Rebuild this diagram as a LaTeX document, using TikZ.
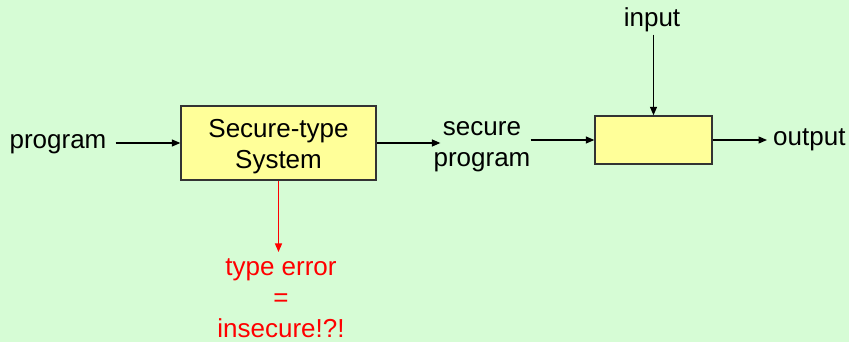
\documentclass[tikz,border=0pt]{standalone}
\usepackage{fontspec}
\setmainfont{Liberation Sans}
\usetikzlibrary{arrows.meta}
\definecolor{bg}{RGB}{214,252,213}
\definecolor{boxy}{RGB}{255,255,153}
\begin{document}
\begin{tikzpicture}[x=1pt,y=-1pt,
  font=\fontsize{26}{31}\selectfont,
  arr/.style={-{Triangle[length=8.5pt,width=7pt]}, line width=1.25pt},
  blk/.style={draw=black!80, fill=boxy, line width=1.4pt, inner sep=0pt, align=center},
  lbl/.style={inner sep=0pt, align=center, anchor=base}]
\fill[bg] (0,0) rectangle (849,342);
\useasboundingbox (0,0) rectangle (849,342);
\node[blk, minimum width=195pt, minimum height=74pt] (sts) at (278.5,143) {\rule{0pt}{25pt}Secure-type\\System};
\node[blk, minimum width=117pt, minimum height=48pt] (run) at (653.5,140) {};
\node[lbl] (prog) at (58,149) {program};
\node[lbl] (sec) at (482,167) {secure\\program};
\node[lbl] (inp) at (652,27) {input};
\node[lbl, anchor=base west] (out) at (773,146) {output};
\node[lbl, text=red] (err) at (281,337) {type error\\=\\insecure!?!};
\draw[arr] ([xshift=9pt]prog.east |- sts.west) -- (sts.west);
\draw[arr] (sts.east) -- ([xshift=7pt]sec.west |- sts.east);
\draw[arr] (sec.east |- run.west) -- (run.west);
\draw[arr] ([yshift=-2pt]inp.south -| run.north) -- (run.north);
\draw[arr] (run.east) -- ([xshift=-6pt]out.west |- run.east);
\draw[arr, red] (sts.south) -- ([yshift=6pt]err.north -| sts.south);
\end{tikzpicture}
\end{document}
